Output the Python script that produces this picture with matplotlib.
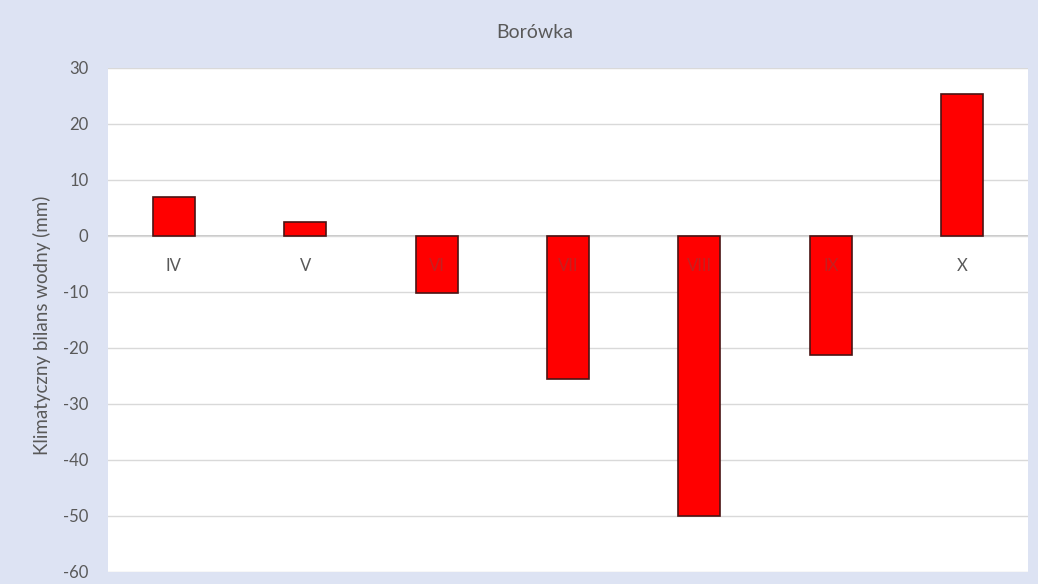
import numpy as np
import matplotlib.pyplot as plt
import matplotlib.transforms as mtransforms

# Klimatyczny bilans wodny - Borówka
months = ["IV", "V", "VI", "VII", "VIII", "IX", "X"]
kbw = [7.0, 2.5, -10.2, -25.5, -50.0, -21.3, 25.4]

plt.rcParams['font.family'] = ['Lato', 'DejaVu Sans']
plt.rcParams['axes.unicode_minus'] = False

fig = plt.figure(figsize=(10.38, 5.84), dpi=100)
fig.patch.set_facecolor("#dde3f3")
ax = fig.add_axes([108 / 1038, 12 / 584, 920 / 1038, 504 / 584])
ax.set_facecolor("white")

x = np.arange(len(months))
ax.bar(x, kbw, width=0.32, color="#ff0000", edgecolor="#4a1414", linewidth=1.2, zorder=3)

ax.set_xlim(-0.5, len(months) - 0.5)
ax.set_ylim(-60, 30)
ax.set_yticks(np.arange(-60, 31, 10))
ax.yaxis.grid(True, color="#d9d9d9", linewidth=1, zorder=0)
ax.axhline(0, color="#bfbfbf", linewidth=1.2, zorder=1)

for s in ax.spines.values():
    s.set_visible(False)
ax.set_xticks([])
ax.tick_params(axis="y", length=0, pad=14, labelsize=12, labelcolor="#595959")

# etykiety miesięcy przy osi zero
offset = mtransforms.ScaledTranslation(0, -30 / 100, fig.dpi_scale_trans)
for xi, lab, v in zip(x, months, kbw):
    covered = v < -6
    ax.text(xi, 0, lab, ha="center", va="center", fontsize=12, color="#595959",
            alpha=0.35 if covered else 1.0, zorder=4, transform=ax.transData + offset)

fig.text(42 / 1038, 1 - 325 / 584, "Klimatyczny bilans wodny (mm)", rotation=90,
         ha="center", va="center", fontsize=13.5, color="#595959")
fig.text(535 / 1038, 1 - 32 / 584, "Borówka", ha="center", va="center", fontsize=14, color="#595959")

fig.savefig("out.png", dpi=100, facecolor=fig.get_facecolor())
